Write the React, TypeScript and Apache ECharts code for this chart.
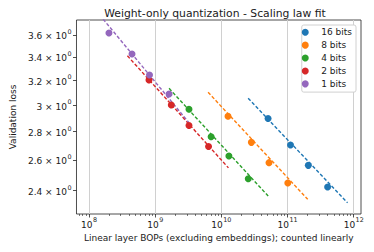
import React, { useEffect, useRef } from "react";
import * as echarts from "echarts";

const SERIES_NAMES = ["16 bits", "8 bits", "4 bits", "2 bits", "1 bits"];
const COLORS = ["#1f77b4", "#ff7f0e", "#2ca02c", "#d62728", "#9467bd"];

// measured points (BOPs, validation loss)
const BOPS_16 = [5.08e10, 1.11e11, 2.06e11, 4.04e11];
const LOSS_16 = [2.896, 2.703, 2.564, 2.423];
const BOPS_8 = [1.26e10, 2.84e10, 5.25e10, 1.01e11];
const LOSS_8 = [2.913, 2.722, 2.582, 2.449];
const BOPS_4 = [3.24e9, 7.0e9, 1.3e10, 2.55e10];
const LOSS_4 = [2.967, 2.762, 2.627, 2.476];
const BOPS_2 = [8.05e8, 1.75e9, 3.24e9, 6.4e9];
const LOSS_2 = [3.202, 3.0, 2.844, 2.693];
const BOPS_1 = [2.0e8, 4.46e8, 8.2e8, 1.62e9];
const LOSS_1 = [3.619, 3.426, 3.244, 3.087];

// scaling-law fit lines (endpoints)
const FIT_BOPS_16 = [2.54e10, 8.08e11];
const FIT_LOSS_16 = [3.053, 2.326];
const FIT_BOPS_8 = [6.3e9, 2.02e11];
const FIT_LOSS_8 = [3.101, 2.347];
const FIT_BOPS_4 = [1.62e9, 5.1e10];
const FIT_LOSS_4 = [3.133, 2.367];
const FIT_BOPS_2 = [3.8e8, 1.28e10];
const FIT_LOSS_2 = [3.41, 2.547];
const FIT_BOPS_1 = [1.0e8, 3.24e9];
const FIT_LOSS_1 = [3.921, 2.865];

// axes
const X_RANGE = [6.46e7, 1.29e12];
const Y_RANGE = [2.259, 3.743];
const X_MAJOR_EXP = [8, 9, 10, 11, 12];
const Y_TICKS = [2.4, 2.6, 2.8, 3.0, 3.2, 3.4, 3.6];

const POINTS_BOPS = [BOPS_16, BOPS_8, BOPS_4, BOPS_2, BOPS_1];
const POINTS_LOSS = [LOSS_16, LOSS_8, LOSS_4, LOSS_2, LOSS_1];
const FITS_BOPS = [FIT_BOPS_16, FIT_BOPS_8, FIT_BOPS_4, FIT_BOPS_2, FIT_BOPS_1];
const FITS_LOSS = [FIT_LOSS_16, FIT_LOSS_8, FIT_LOSS_4, FIT_LOSS_2, FIT_LOSS_1];

const FONT = "DejaVu Sans";
const TEXT_COLOR = "#1a1a1a";
const FS = 9;

const RICH = {
  b: { fontFamily: FONT, fontSize: FS, color: TEXT_COLOR, lineHeight: 12, verticalAlign: "bottom" },
  s: { fontFamily: FONT, fontSize: 6.4, color: TEXT_COLOR, lineHeight: 12, verticalAlign: "top", padding: [0, 0, 0, 0.5] },
};

export default function App() {
  const ref = useRef<HTMLDivElement>(null);
  useEffect(() => {
    if (!ref.current) return;
    const chart = echarts.init(ref.current, undefined, { renderer: "svg" });
    const lg = Math.log10;

    const minorTicks: number[] = [];
    for (let e = 7; e <= 12; e++) {
      for (let k = 2; k <= 9; k++) {
        const v = lg(k) + e;
        if (v > lg(X_RANGE[0]) && v < lg(X_RANGE[1])) minorTicks.push(v);
      }
    }

    const series: any[] = [];
    SERIES_NAMES.forEach((name, i) => {
      series.push({
        name: "fit " + name,
        type: "line",
        data: FITS_BOPS[i].map((x, j) => [lg(x), lg(FITS_LOSS[i][j])]),
        showSymbol: false,
        symbol: "none",
        clip: true,
        lineStyle: { color: COLORS[i], width: 1.4, type: [3.5, 2] },
        z: 2,
        silent: true,
      });
    });
    SERIES_NAMES.forEach((name, i) => {
      series.push({
        name,
        type: "scatter",
        data: POINTS_BOPS[i].map((x, j) => [lg(x), lg(POINTS_LOSS[i][j])]),
        symbol: "circle",
        symbolSize: 7,
        itemStyle: { color: COLORS[i], opacity: 1 },
        z: 3,
      });
    });

    chart.setOption({
      animation: false,
      textStyle: { fontFamily: FONT },
      title: {
        text: "Weight-only quantization - Scaling law fit",
        left: 210,
        top: 3,
        textAlign: "center",
        textStyle: { fontFamily: FONT, fontSize: 10.8, fontWeight: "normal", color: TEXT_COLOR },
      },
      legend: {
        data: SERIES_NAMES.map((n) => ({ name: n, icon: "circle" })),
        orient: "vertical",
        right: 18,
        top: 25,
        itemWidth: 22,
        itemHeight: 7,
        itemGap: 2.4,
        padding: [2, 4, 3, 0],
        backgroundColor: "#ffffff",
        borderColor: "#d0d0d0",
        borderWidth: 1,
        borderRadius: 2,
        textStyle: { fontFamily: FONT, fontSize: FS, color: TEXT_COLOR, lineHeight: 10.5 },
      },
      grid: {
        left: 60,
        right: 13,
        top: 20,
        bottom: 38,
        show: true,
        borderColor: "#222",
        borderWidth: 0.8,
        backgroundColor: "transparent",
      },
      xAxis: [
        {
          type: "value",
          min: lg(X_RANGE[0]),
          max: lg(X_RANGE[1]),
          position: "bottom",
          name: "Linear layer BOPs (excluding embeddings); counted linearly",
          nameLocation: "middle",
          nameGap: 18,
          nameTextStyle: { fontFamily: FONT, fontSize: FS, color: TEXT_COLOR },
          axisLine: { show: false },
          axisTick: { show: true, customValues: X_MAJOR_EXP, length: 3.5, lineStyle: { color: "#222", width: 0.8 } },
          axisLabel: {
            customValues: X_MAJOR_EXP,
            formatter: (v: number) => "{b|10}{s|" + Math.round(v) + "}",
            rich: RICH,
            margin: 3,
          },
          splitLine: { show: true, lineStyle: { color: "#d0d0d0", width: 1 } },
        },
        {
          type: "value",
          min: lg(X_RANGE[0]),
          max: lg(X_RANGE[1]),
          position: "bottom",
          offset: 0,
          axisLine: { show: false },
          axisTick: { show: true, customValues: minorTicks, length: 2, lineStyle: { color: "#222", width: 0.6 } },
          axisLabel: { show: false },
          splitLine: { show: false },
        },
      ],
      yAxis: {
        type: "value",
        min: lg(Y_RANGE[0]),
        max: lg(Y_RANGE[1]),
        name: "Validation loss",
        nameLocation: "middle",
        nameGap: 48,
        nameRotate: 90,
        nameTextStyle: { fontFamily: FONT, fontSize: FS, color: TEXT_COLOR },
        axisLine: { show: false },
        axisTick: { show: true, customValues: Y_TICKS.map((t) => lg(t)), length: 3.5, lineStyle: { color: "#222", width: 0.8 } },
        axisLabel: {
          customValues: Y_TICKS.map((t) => lg(t)),
          formatter: (v: number) => {
            const t = Math.round(Math.pow(10, v) * 10) / 10;
            const s = Number.isInteger(t) ? String(t) : t.toFixed(1);
            return "{b|" + s + " \u00D7 10}{s|0}";
          },
          rich: RICH,
          margin: 5,
        },
        splitLine: { show: false },
      },
      series,
    });
    return () => chart.dispose();
  }, []);
  return (
    <div
      ref={ref}
      style={{ position: "absolute", left: 0, top: 0, width: 374, height: 252 }}
    />
  );
}
